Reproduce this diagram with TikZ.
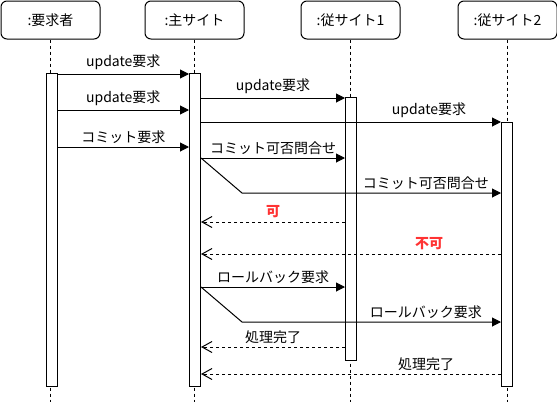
\documentclass[tikz,border=0pt]{standalone}
\usepackage{fontspec}
\setmainfont{Noto Sans CJK JP}
\usetikzlibrary{arrows.meta, positioning}
\definecolor{ngred}{HTML}{FF3333}
\tikzstyle{head} = [draw,rounded corners=6pt,fill=white,minimum width=99pt,minimum height=38pt,line width=1pt]
\tikzstyle{bar} = [draw,fill=white,minimum width=11pt,inner sep=0pt,line width=1pt]
\tikzstyle{life} = [dashed,line width=0.8pt]
\tikzstyle{msg} = [line width=1pt,-{Triangle[length=9pt,width=9pt]}]
\tikzstyle{ret} = [line width=1pt,dashed,-{Straight Barb[length=10pt,width=11pt]}]
\tikzstyle{ng} = [text=ngred,font=\fontsize{14}{16}\selectfont\bfseries]

\begin{document}
\begin{tikzpicture}[x=1pt,y=-1pt,font=\fontsize{14}{16}\selectfont]
        \useasboundingbox (0,0) rectangle (557,402);

        \node (A) [head] at (50.5,20) {:要求者};
        \node (B) [head, right=44pt of A] {:主サイト};
        \node (C) [head, right=56pt of B] {:従サイト1};
        \node (D) [head, right=57pt of C] {:従サイト2};

        % lifelines
        \draw[life] (A) -- (A |- 0,402);
        \draw[life] (B) -- (B |- 0,402);
        \draw[life] (C) -- (C |- 0,402);
        \draw[life] (D) -- (D |- 0,402);

        \node (a) [bar, minimum height=313pt] at (51.5,229.5) {};
        \node (b) [bar, minimum height=313pt] at (195,229.5) {};
        \node (c) [bar, minimum height=263pt] at (351,228.5) {};
        \node (d) [bar, minimum height=264pt] at (507,254) {};

        \draw[msg] (a.east |- 0,74) -- node[above] {update要求} (b.west |- 0,74);
        \draw[msg] (a.east |- 0,110) -- node[above] {update要求} (b.west |- 0,110);
        \draw[msg] (a.east |- 0,147) -- node[above] {コミット要求} (b.west |- 0,147);

        \draw[msg] (b.east |- 0,98) -- node[above] {update要求} (c.west |- 0,98);
        \draw[msg] (b.east |- 0,122) -- node[above,pos=0.76] {update要求} (d.west |- 0,122);
        \draw[msg] (b.east |- 0,158) -- node[above] {コミット可否問合せ} (c.west |- 0,158);
        \draw[msg] (b.east |- 0,158) -- ++(41,35) -- node[above,pos=0.71] {コミット可否問合せ} (d.west |- 0,193);

        \draw[ret] (c.west |- 0,222) -- node[above,ng] {可} (b.east |- 0,222);
        \draw[ret] (d.west |- 0,254) -- node[above,ng,pos=0.24] {不可} (b.east |- 0,254);

        \draw[msg] (b.east |- 0,287) -- node[above] {ロールバック要求} (c.west |- 0,287);
        \draw[msg] (b.east |- 0,287) -- ++(41,35) -- node[above,pos=0.71] {ロールバック要求} (d.west |- 0,322);

        \draw[ret] (c.west |- 0,347) -- node[above] {処理完了} (b.east |- 0,347);
        \draw[ret] (d.west |- 0,374) -- node[above,pos=0.25] {処理完了} (b.east |- 0,374);

    \end{tikzpicture}
\end{document}
